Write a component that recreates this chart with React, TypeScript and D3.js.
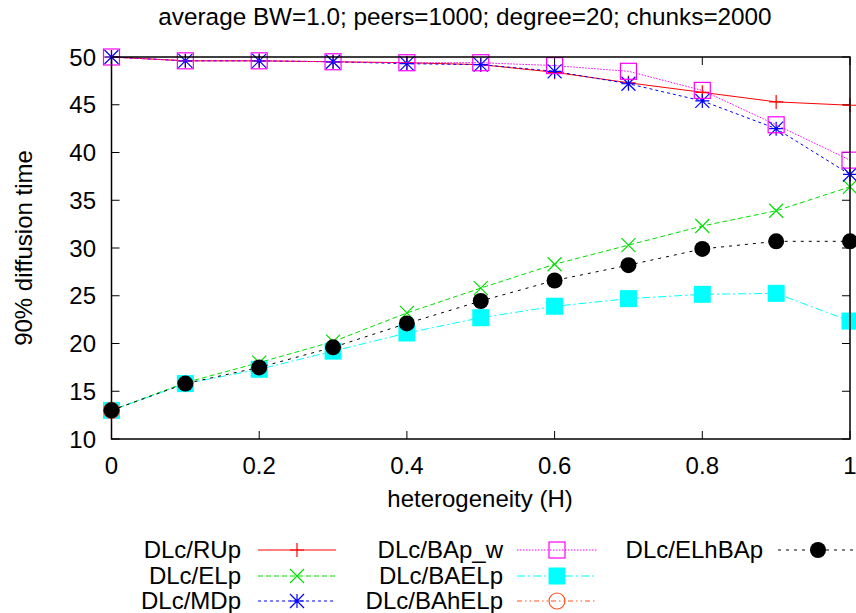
import React from "react";
import * as d3 from "d3";

const W = 856;
const H = 613;
const H_VALUES = [0, 0.1, 0.2, 0.3, 0.4, 0.5, 0.6, 0.7, 0.8, 0.9, 1.0];
const RUp = [50, 49.6, 49.6, 49.5, 49.4, 49.2, 48.4, 47.3, 46.3, 45.3, 44.95];
const ELp = [13, 15.9, 18.0, 20.2, 23.2, 25.8, 28.3, 30.3, 32.3, 33.9, 36.4];
const MDp = [50, 49.6, 49.6, 49.5, 49.3, 49.2, 48.5, 47.2, 45.4, 42.5, 37.7];
const BAp_w = [50, 49.6, 49.6, 49.5, 49.4, 49.4, 49.1, 48.5, 46.5, 42.9, 39.2];
const BAELp = [13, 15.8, 17.3, 19.2, 21.1, 22.7, 23.9, 24.7, 25.15, 25.25, 22.35];
const BAhELp = [13];
const ELhBAp = [13, 15.8, 17.5, 19.6, 22.1, 24.45, 26.6, 28.2, 29.9, 30.7, 30.7];
const X_TICKS = [0, 0.2, 0.4, 0.6, 0.8, 1];
const X_TICK_LABELS = ["0", "0.2", "0.4", "0.6", "0.8", "1"];
const Y_TICKS = [10, 15, 20, 25, 30, 35, 40, 45, 50];

type Series = {
  name: string;
  values: number[];
  color: string;
  dash: string;
  marker: string;
};

const SERIES: Series[] = [
  { name: "DLc/RUp", values: RUp, color: "#ff0000", dash: "none", marker: "plus" },
  { name: "DLc/ELp", values: ELp, color: "#00e000", dash: "5,3", marker: "cross" },
  { name: "DLc/MDp", values: MDp, color: "#0000ff", dash: "3,3", marker: "star" },
  { name: "DLc/BAp_w", values: BAp_w, color: "#ff00ff", dash: "1.5,1.5", marker: "square" },
  { name: "DLc/BAELp", values: BAELp, color: "#00ffff", dash: "8,3,2,3", marker: "fsquare" },
  { name: "DLc/BAhELp", values: BAhELp, color: "#ff5020", dash: "5,3,1.5,3,1.5,3", marker: "circle" },
  { name: "DLc/ELhBAp", values: ELhBAp, color: "#000000", dash: "3,5", marker: "fcircle" },
];

const M = { left: 111.5, right: 850, top: 57, bottom: 439 };

function Marker({ type, x, y, color }: { type: string; x: number; y: number; color: string }) {
  const s = 7;
  switch (type) {
    case "plus":
      return (
        <path d={`M${x - s},${y}H${x + s}M${x},${y - s}V${y + s}`} stroke={color} strokeWidth={1.2} fill="none" />
      );
    case "cross":
      return (
        <path d={`M${x - s},${y - s}L${x + s},${y + s}M${x - s},${y + s}L${x + s},${y - s}`} stroke={color} strokeWidth={1.2} fill="none" />
      );
    case "star":
      return (
        <path
          d={`M${x - s},${y - s}L${x + s},${y + s}M${x - s},${y + s}L${x + s},${y - s}M${x - s},${y}H${x + s}M${x},${y - s}V${y + s}`}
          stroke={color}
          strokeWidth={1.2}
          fill="none"
        />
      );
    case "square":
      return <rect x={x - 8} y={y - 8} width={16} height={16} stroke={color} strokeWidth={1.2} fill="none" />;
    case "fsquare":
      return <rect x={x - 8.5} y={y - 8.5} width={17} height={17} fill={color} />;
    case "circle":
      return <circle cx={x} cy={y} r={8} stroke={color} strokeWidth={1.2} fill="none" />;
    case "fcircle":
      return <circle cx={x} cy={y} r={8} fill={color} />;
  }
  return null;
}

export default function App() {
  const x = d3.scaleLinear().domain([0, 1]).range([M.left, M.right]);
  const y = d3.scaleLinear().domain([10, 50]).range([M.bottom, M.top]);
  const line = d3
    .line<[number, number]>()
    .x((d) => x(d[0]))
    .y((d) => y(d[1]));
  const font = "'Liberation Sans', Arial, Helvetica, sans-serif";
  const fs = 24;
  const tick = 8;
  const legendRows = [550, 576, 601];
  const legendCols = [
    { textEnd: 241, lineStart: 258, lineEnd: 336 },
    { textEnd: 503, lineStart: 517, lineEnd: 597 },
    { textEnd: 763, lineStart: 778, lineEnd: 858 },
  ];

  return (
    <svg
      width={W}
      height={H}
      style={{ position: "absolute", left: 0, top: 0, background: "#fff" }}
      fontFamily={font}
    >
      <rect width={W} height={H} fill="#fff" />
      <text x={465} y={25} fontSize={24.3} textAnchor="middle" fill="#000">
        average BW=1.0; peers=1000; degree=20; chunks=2000
      </text>

      {/* ticks */}
      {Y_TICKS.map((t) => (
        <g key={"y" + t}>
          <line x1={M.left} x2={M.left + tick} y1={y(t)} y2={y(t)} stroke="#000" strokeWidth={1} />
          <line x1={M.right} x2={M.right - tick} y1={y(t)} y2={y(t)} stroke="#000" strokeWidth={1} />
          <text x={96} y={y(t) + 8.5} fontSize={fs} textAnchor="end" fill="#000">
            {t}
          </text>
        </g>
      ))}
      {X_TICKS.map((t, i) => (
        <g key={"x" + t}>
          <line x1={x(t)} x2={x(t)} y1={M.bottom} y2={M.bottom - tick} stroke="#000" strokeWidth={1} />
          <line x1={x(t)} x2={x(t)} y1={M.top} y2={M.top + tick} stroke="#000" strokeWidth={1} />
          <text x={x(t)} y={474} fontSize={fs} textAnchor="middle" fill="#000">
            {X_TICK_LABELS[i]}
          </text>
        </g>
      ))}

      <text x={480} y={507} fontSize={fs} textAnchor="middle" fill="#000">
        heterogeneity (H)
      </text>
      <text transform={`translate(32,248) rotate(-90)`} fontSize={fs} textAnchor="middle" fill="#000">
        90% diffusion time
      </text>

      {/* data */}
      {SERIES.map((s) => {
        const pts: [number, number][] = s.values.map((v, i) => [H_VALUES[i], v]);
        return (
          <g key={s.name}>
            {pts.length > 1 && (
              <path d={line(pts) || ""} fill="none" stroke={s.color} strokeWidth={1} strokeDasharray={s.dash} />
            )}
            {pts.map((p, i) => (
              <Marker key={i} type={s.marker} x={x(p[0])} y={y(p[1])} color={s.color} />
            ))}
          </g>
        );
      })}

      {/* border */}
      <rect
        x={M.left}
        y={M.top}
        width={M.right - M.left}
        height={M.bottom - M.top}
        fill="none"
        stroke="#000"
        strokeWidth={1.5}
      />

      {/* legend */}
      {SERIES.map((s, i) => {
        const col = legendCols[Math.floor(i / 3)];
        const ry = legendRows[i % 3];
        const mx = (col.lineStart + col.lineEnd) / 2;
        return (
          <g key={"leg" + s.name}>
            <text x={col.textEnd} y={ry + 8} fontSize={fs} textAnchor="end" fill="#000">
              {s.name}
            </text>
            <line
              x1={col.lineStart}
              x2={col.lineEnd}
              y1={ry}
              y2={ry}
              stroke={s.color}
              strokeWidth={1}
              strokeDasharray={s.dash}
            />
            <Marker type={s.marker} x={mx} y={ry} color={s.color} />
          </g>
        );
      })}
    </svg>
  );
}
